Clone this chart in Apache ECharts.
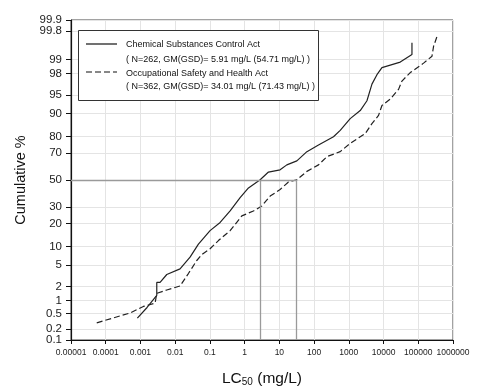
<!DOCTYPE html>
<html><head><meta charset="utf-8">
<script src="https://cdn.jsdelivr.net/npm/echarts@6/dist/echarts.min.js"></script>
<style>html,body{margin:0;padding:0;background:#fff}#c{width:478px;height:392px}</style>
</head><body><div id="c"></div>
<script>
// ---- data ----
const xTickLabels = ['0.00001','0.0001','0.001','0.01','0.1','1','10','100','1000','10000','100000','1000000'];
const xLogMin = -5, xLogMax = 6;
const yTickLabels = [0.1,0.2,0.5,1,2,5,10,20,30,50,70,80,90,95,98,99,99.8,99.9];
// labels that sit very close to a neighbour (drawn on an overlaid axis so they are not auto-hidden)
const yCrowdedLabels = [0.2, 99.8];

// Chemical Substances Control Act (solid)
const tscaLC50 = [0.000815,0.00155,0.00295,0.00295,0.00367,0.00573,0.0138,0.0268,0.0467,0.101,0.197,0.382,0.741,1.29,2.80,4.85,10.5,16.4,31.9,62.1,134,362,565,1096,2133,3326,4634,6457,8995,30270,65800,65800];
const tscaPct  = [0.38,0.69,1.3,2.4,2.4,3.4,4.3,6.8,10.8,16.4,20.6,27.5,36.6,43.9,50.2,56.1,57.8,61.5,64.4,70.8,75.0,79.8,83.1,88.2,91.0,93.7,96.8,97.9,98.5,98.86,99.23,99.6];

// Occupational Safety and Health Act (dashed)
const oshaLC50 = [0.0000551,0.000501,0.00121,0.00264,0.00295,0.00573,0.0138,0.0240,0.0419,0.0585,0.101,0.176,0.382,0.830,1.79,3.13,5.43,10.5,18.3,31.9,62.1,134,234,565,1096,2972,4634,7178,8995,15600,27040,33880,58800,142200,248300,276000,345900];
const oshaPct  = [0.29,0.51,0.73,0.87,1.43,1.68,2.03,3.54,6.0,7.5,9.2,12.1,16.4,24.4,27.5,30.8,37.8,42.7,48.5,50.2,56.6,61.5,67.4,70.8,76.0,81.5,86.2,89.4,92.5,94.1,96.0,97.2,98.1,98.8,99.16,99.51,99.72];

// LC50 where each curve crosses 50 %
const medianLC50 = [2.8, 30.5];
const medianPct = 50;

// ---- probability scale (probit) ----
function probit(p){
 const a=[-3.969683028665376e+01,2.209460984245205e+02,-2.759285104469687e+02,1.383577518672690e+02,-3.066479806614716e+01,2.506628277459239e+00];
 const b=[-5.447609879822406e+01,1.615858368580409e+02,-1.556989798598866e+02,6.680131188771972e+01,-1.328068155288572e+01];
 const c=[-7.784894002430293e-03,-3.223964580411365e-01,-2.400758277161838e+00,-2.549732539343734e+00,4.374664141464968e+00,2.938163982698783e+00];
 const d=[7.784695709041462e-03,3.224671290700398e-01,2.445134137142996e+00,3.754408661907416e+00];
 const pl=0.02425, ph=1-pl; let q,r;
 if(p<pl){q=Math.sqrt(-2*Math.log(p));return (((((c[0]*q+c[1])*q+c[2])*q+c[3])*q+c[4])*q+c[5])/((((d[0]*q+d[1])*q+d[2])*q+d[3])*q+1);}
 if(p<=ph){q=p-0.5;r=q*q;return (((((a[0]*r+a[1])*r+a[2])*r+a[3])*r+a[4])*r+a[5])*q/(((((b[0]*r+b[1])*r+b[2])*r+b[3])*r+b[4])*r+1);}
 q=Math.sqrt(-2*Math.log(1-p));return -(((((c[0]*q+c[1])*q+c[2])*q+c[3])*q+c[4])*q+c[5])/((((d[0]*q+d[1])*q+d[2])*q+d[3])*q+1);
}
const yz = pct => probit(pct/100);
const yTickZ = yTickLabels.map(yz);
const yMainLabels = yTickLabels.filter(v => !yCrowdedLabels.includes(v));
const yMin = yTickZ[0] - 1e-9, yMax = yTickZ[yTickZ.length-1] + 1e-9;
const toPts = (xs, ps) => xs.map((x,i)=>[Math.log10(x), yz(ps[i])]);
const zLabel = v => {let bi=0,bd=1e9;yTickZ.forEach((z,i)=>{const dd=Math.abs(z-v);if(dd<bd){bd=dd;bi=i;}});return String(yTickLabels[bi]);};

const FONT = 'Arial, "Liberation Sans", sans-serif';
const yLabelStyle = {fontFamily:FONT, fontSize:11.5, color:'#222', margin:9, interval:0,
  showMinLabel:true, showMaxLabel:true, formatter:zLabel};
const chart = echarts.init(document.getElementById('c'), null, {renderer:'canvas'});
chart.setOption({
  animation:false,
  backgroundColor:'#fff',
  grid:{left:71, right:25, top:20, bottom:48, show:true, borderColor:'#444', borderWidth:1},
  xAxis:{
    type:'value', min:xLogMin, max:xLogMax, interval:1,
    name:'LC{sub|50} (mg/L)', nameLocation:'middle', nameGap:31,
    nameTextStyle:{fontFamily:FONT, fontSize:15.5, color:'#111',
      rich:{sub:{fontFamily:FONT, fontSize:10, color:'#111', verticalAlign:'bottom', padding:[6,0,0,0]}}},
    axisLine:{onZero:false, lineStyle:{color:'#111', width:1.2}},
    axisTick:{show:true, inside:false, length:4, lineStyle:{color:'#111'}},
    axisLabel:{fontFamily:FONT, fontSize:8.5, color:'#222', margin:8,
      formatter:v=>xTickLabels[Math.round(v-xLogMin)]},
    splitLine:{show:true, lineStyle:{color:'#e4e4e4', width:1}}
  },
  yAxis:[{
    type:'value', min:yMin, max:yMax, position:'left',
    name:'Cumulative %', nameLocation:'middle', nameGap:35, nameRotate:90,
    nameTextStyle:{fontFamily:FONT, fontSize:14.5, color:'#111'},
    axisLine:{show:true, onZero:false, lineStyle:{color:'#111', width:1.2}},
    axisTick:{show:true, inside:false, length:5, interval:0, customValues:yTickZ, lineStyle:{color:'#111'}},
    axisLabel:Object.assign({customValues:yMainLabels.map(yz)}, yLabelStyle),
    splitLine:{show:true, interval:0, lineStyle:{color:'#e4e4e4', width:1}}
  },{
    type:'value', min:yMin, max:yMax, position:'left', offset:0,
    axisLine:{show:false}, axisTick:{show:false}, splitLine:{show:false},
    axisLabel:Object.assign({customValues:yCrowdedLabels.map(yz)}, yLabelStyle)
  }],
  series:[
    {type:'line', name:'Chemical Substances Control Act', data:toPts(tscaLC50,tscaPct),
     showSymbol:false, lineStyle:{color:'#222', width:1.2, type:'solid'}, z:3,
     markLine:{silent:true, symbol:'none', label:{show:false},
       lineStyle:{color:'#9a9a9a', width:1.3, type:'solid'},
       data:[
         [{coord:[xLogMin, yz(medianPct)]},{coord:[Math.log10(medianLC50[1]), yz(medianPct)]}],
         [{coord:[Math.log10(medianLC50[0]), yMin]},{coord:[Math.log10(medianLC50[0]), yz(medianPct)]}],
         [{coord:[Math.log10(medianLC50[1]), yMin]},{coord:[Math.log10(medianLC50[1]), yz(medianPct)]}]
       ]}},
    {type:'line', name:'Occupational Safety and Health Act', data:toPts(oshaLC50,oshaPct),
     showSymbol:false, lineStyle:{color:'#222', width:1.2, type:[6,3]}, z:3}
  ],
  graphic:[
    {type:'rect', shape:{x:78.5,y:30.5,width:240,height:70}, style:{fill:'#fff', stroke:'#333', lineWidth:1}, z:10},
    {type:'line', shape:{x1:86,y1:44,x2:117,y2:44}, style:{stroke:'#111', lineWidth:1.2}, z:11},
    {type:'line', shape:{x1:86,y1:72,x2:117,y2:72}, style:{stroke:'#111', lineWidth:1.2, lineDash:[6,3]}, z:11},
    {type:'text', x:126, y:45, style:{text:'Chemical Substances Control Act', font:'9px '+FONT, fill:'#111', textVerticalAlign:'middle'}, z:11},
    {type:'text', x:126, y:59.5, style:{text:'( N=262, GM(GSD)= 5.91 mg/L (54.71 mg/L) )', font:'9px '+FONT, fill:'#111', textVerticalAlign:'middle'}, z:11},
    {type:'text', x:126, y:73.5, style:{text:'Occupational Safety and Health Act', font:'9px '+FONT, fill:'#111', textVerticalAlign:'middle'}, z:11},
    {type:'text', x:126, y:86.5, style:{text:'( N=362, GM(GSD)= 34.01 mg/L (71.43 mg/L) )', font:'9px '+FONT, fill:'#111', textVerticalAlign:'middle'}, z:11}
  ]
});
</script></body></html>
